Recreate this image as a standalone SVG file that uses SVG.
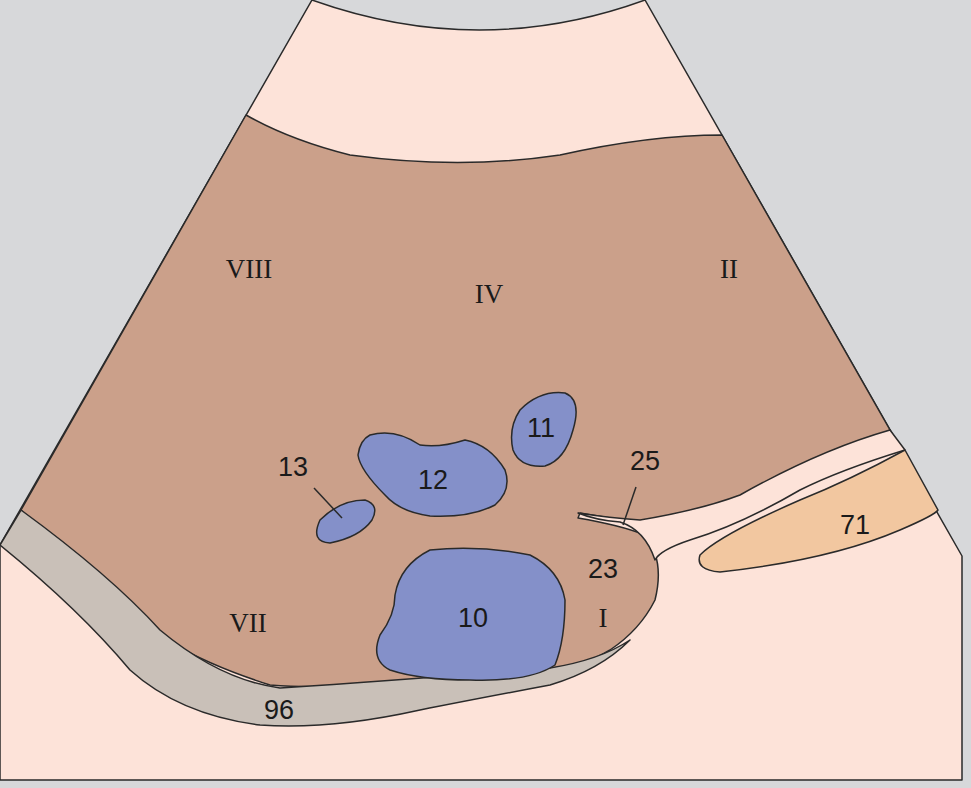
<svg xmlns="http://www.w3.org/2000/svg" width="971" height="788" viewBox="0 0 971 788">
<style>
.o{stroke:#2a2a2a;stroke-width:1.5;stroke-linejoin:round}
.t{font-family:"Liberation Sans",Arial,sans-serif;font-size:27px;fill:#1a1a1a;text-anchor:middle}
.r{font-family:"Liberation Serif","Times New Roman",serif;font-size:27px;fill:#1a1a1a;text-anchor:middle}
</style>
<rect x="0" y="0" width="971" height="788" fill="#d7d8da"/>
<path class="o" fill="#fde3d9" d="M312,0 Q480,60 645,0 L962,556 L962,780 L0,780 L0,545 Z"/>
<path class="o" fill="#cba08a" d="M246,115 Q290,140 350,155 Q460,170 560,155 Q650,135 722,135 L890,430 Q840,455 780,500 Q720,525 680,528 Q630,522 580,513 L578,518 Q620,525 645,535 Q665,560 655,600 Q640,630 610,650 Q580,668 555,668 L555,672 L420,680 Q330,690 270,685 Q160,650 120,600 Q70,560 21,510 Z"/>
<path class="o" fill="#fde3d9" d="M578,513 Q610,518 640,520 Q700,510 740,495 Q820,450 890,430 L905,450 Q840,470 800,490 Q740,525 690,540 Q660,550 655,560 Q645,530 620,522 Q595,520 578,513 Z"/>
<path class="o" fill="#c9c0b8" d="M0,545 L21,510 Q110,575 160,630 Q220,680 280,688 Q400,680 550,668 Q600,660 630,640 Q600,670 550,685 Q470,700 420,710 Q330,730 260,725 Q180,715 130,670 Q80,610 0,545 Z"/>
<path class="o" fill="#f2c7a0" d="M905,450 Q850,480 800,500 Q720,535 700,555 Q695,570 720,572 Q830,560 900,530 Q935,515 938,510 Z"/>
<path class="o" fill="#8490c9" d="M430,550 Q480,545 530,555 Q560,570 565,600 Q565,640 555,665 Q530,682 470,680 Q420,680 390,670 Q370,660 380,635 Q395,615 395,595 Q400,565 430,550 Z"/>
<path class="o" fill="#8490c9" d="M370,435 Q395,428 420,445 Q440,448 465,440 Q490,445 505,470 Q512,490 495,505 Q470,518 430,516 Q400,512 385,495 Q360,470 358,455 Q360,440 370,435 Z"/>
<path class="o" fill="#8490c9" d="M520,410 Q540,390 565,393 Q582,400 573,430 Q565,460 545,466 Q520,468 513,450 Q508,428 520,410 Z"/>
<path class="o" fill="#8490c9" d="M320,520 Q340,500 365,500 Q380,505 372,520 Q360,537 330,543 Q310,542 320,520 Z"/>
<line class="o" x1="314" y1="488" x2="342" y2="518"/>
<line class="o" x1="636" y1="487" x2="623" y2="525"/>
<text class="r" x="249" y="278">VIII</text>
<text class="r" x="489" y="303">IV</text>
<text class="r" x="729" y="278">II</text>
<text class="r" x="248" y="632">VII</text>
<text class="r" x="603" y="627">I</text>
<text class="t" x="541" y="437">11</text>
<text class="t" x="433" y="489">12</text>
<text class="t" x="293" y="476">13</text>
<text class="t" x="645" y="470">25</text>
<text class="t" x="603" y="578">23</text>
<text class="t" x="473" y="627">10</text>
<text class="t" x="855" y="534">71</text>
<text class="t" x="279" y="719">96</text>
</svg>
